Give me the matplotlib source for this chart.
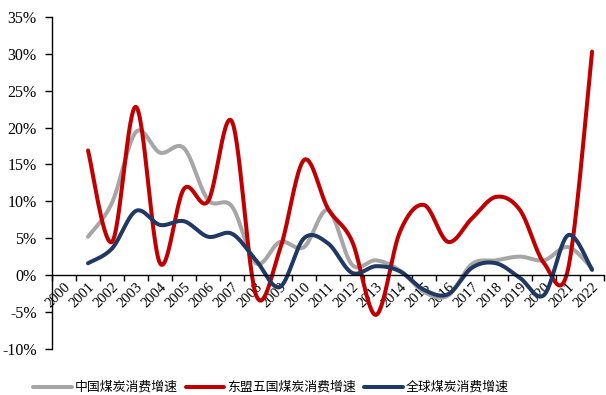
import numpy as np
import matplotlib
matplotlib.use("Agg")
import matplotlib.pyplot as plt
from matplotlib.ticker import FixedLocator, PercentFormatter

# 年份与三条增速序列（%）
years = [str(y) for y in range(2000, 2023)]
china = [np.nan, 5.2, 9.8, 19.4, 16.6, 17.2, 10.2, 9.3, 1.6, 4.5, 3.8, 8.8,
         1.4, 2.0, 0.6, -2.3, -2.8, 1.5, 2.0, 2.5, 2.0, 3.8, 0.9]
asean5 = [np.nan, 16.9, 4.5, 22.8, 1.6, 11.7, 10.0, 20.8, -2.7, 3.5, 15.6, 9.0,
          4.6, -5.4, 5.9, 9.5, 4.5, 7.7, 10.6, 8.8, 1.6, 0.8, 30.3]
world = [np.nan, 1.6, 3.6, 8.7, 6.8, 7.3, 5.2, 5.6, 2.0, -1.6, 5.0, 4.3,
         0.3, 1.2, 0.5, -2.0, -2.6, 1.0, 1.6, -0.4, -2.7, 5.4, 0.7]

labels = ['中国煤炭消费增速', '东盟五国煤炭消费增速', '全球煤炭消费增速']
colors = ['#A6A6A6', '#C00000', '#1F3864']


def smooth(xs, ys, n=30):
    # Catmull-Rom 样条（类似 Excel 的平滑线）
    pts = np.array([(x, y) for x, y in zip(xs, ys) if not np.isnan(y)])
    out = []
    for i in range(len(pts) - 1):
        p0 = pts[max(i - 1, 0)]
        p1 = pts[i]
        p2 = pts[i + 1]
        p3 = pts[min(i + 2, len(pts) - 1)]
        c1 = p1 + (p2 - p0) / 6
        c2 = p2 - (p3 - p1) / 6
        t = np.linspace(0, 1, n)[:, None]
        seg = ((1 - t) ** 3 * p1 + 3 * (1 - t) ** 2 * t * c1
               + 3 * (1 - t) * t ** 2 * c2 + t ** 3 * p2)
        out.append(seg if i == 0 else seg[1:])
    out = np.vstack(out)
    return out[:, 0], out[:, 1]


plt.rcParams['font.family'] = ['Liberation Serif', 'Noto Sans CJK SC']
plt.rcParams['axes.unicode_minus'] = False

fig = plt.figure(figsize=(6.06, 3.95), dpi=100)
ax = fig.add_axes([0.0858, 0.117, 0.911, 0.840])

x = np.arange(len(years))
for data, lab, c in zip([china, asean5, world], labels, colors):
    sx, sy = smooth(x, data)
    ax.plot(sx, sy, color=c, lw=2.9, label=lab, solid_capstyle='round')

ax.set_xlim(-0.5, len(years) - 0.5)
ax.set_ylim(-10, 35)
ax.set_yticks(np.arange(-10, 36, 5))
ax.yaxis.set_major_formatter(PercentFormatter(decimals=0))

ax.spines['top'].set_visible(False)
ax.spines['right'].set_visible(False)
ax.spines['bottom'].set_position(('data', 0))
ax.spines['left'].set_linewidth(1.0)
ax.spines['bottom'].set_linewidth(1.0)

ax.set_xticks(x)
ax.set_xticklabels(years, rotation=45, ha='right', va='top',
                   rotation_mode='anchor', fontsize=10.5)
ax.xaxis.set_minor_locator(FixedLocator(np.arange(-0.5, len(years), 1)))
ax.tick_params(axis='x', which='major', length=0, pad=4)
ax.tick_params(axis='x', which='minor', length=4, direction='out', width=1)
ax.tick_params(axis='y', length=5, direction='out', labelsize=11.5, width=1, pad=6)

fig.legend(loc='lower center', bbox_to_anchor=(0.447, -0.027), ncol=3,
           frameon=False, handlelength=3.0, columnspacing=0.6,
           handletextpad=0.25, prop={'family': 'Noto Sans CJK SC', 'size': 9.3})

fig.savefig('out.png', dpi=100)
